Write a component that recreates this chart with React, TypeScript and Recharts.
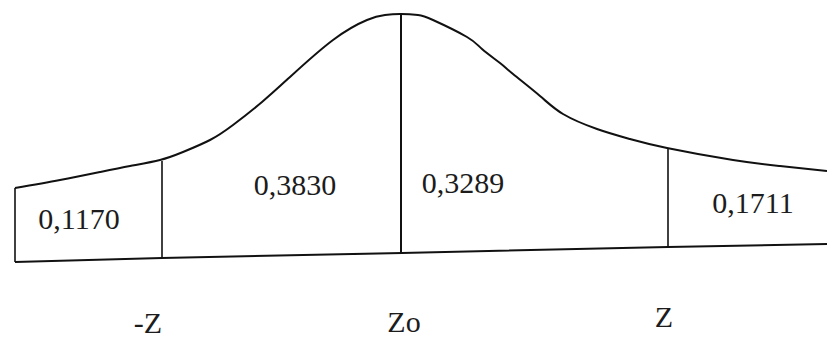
import React from 'react';
import { ComposedChart, Line, XAxis, YAxis, ReferenceLine, ReferenceDot } from 'recharts';

// Bell curve outline (z position, height above the left end of the base line)
const curveX = [-3.88, -3.43, -3.03, -2.73, -2.43, -2.2, -1.93, -1.7, -1.41, -1.13, -0.7, -0.36, -0.18, -0.02, 0.15, 0.3, 0.64, 0.79, 0.97, 1.1, 1.37, 1.6, 1.94, 2.27, 2.64, 3.3, 3.77, 4.24];
const curveY = [0.74, 0.82, 0.9, 0.96, 1.02, 1.1, 1.22, 1.37, 1.6, 1.85, 2.22, 2.42, 2.47, 2.48, 2.47, 2.42, 2.25, 2.13, 1.99, 1.88, 1.66, 1.48, 1.33, 1.23, 1.14, 1.02, 0.96, 0.91];

// Base line under the curve
const baseX = [-3.88, -2.41, -0.01, 2.65, 4.24];
const baseY = [0, 0.04, 0.09, 0.15, 0.18];

// Dividing verticals: left edge, -Z, Zo, Z
const cutX = [-3.88, -2.41, -0.02, 2.65];
const cutBottom = [0, 0.04, 0.09, 0.15];
const cutTop = [0.74, 1.01, 2.48, 1.14];

// Area values written inside each section
const areaLabels = ['0,1170', '0,3830', '0,3289', '0,1711'];
const areaX = [-3.24, -1.08, 0.6, 3.5];
const areaY = [0.33, 0.67, 0.69, 0.49];

// Z markers under the base line
const zLabels = ['-Z', 'Zo', 'Z'];
const zX = [-2.55, 0.01, 2.61];
const zY = [-0.71, -0.7, -0.65];

const curveData = curveX.map((x, i) => ({ x, y: curveY[i] }));
const baseData = baseX.map((x, i) => ({ x, y: baseY[i] }));

const INK = '#111';
const FONT = "'Liberation Serif', 'Times New Roman', serif";

const textShape = (label: string) => (props: any) => (
  <text
    x={props.cx}
    y={props.cy}
    textAnchor="middle"
    style={{ fontFamily: FONT, fontSize: 30, fill: '#1c1c1c' }}
  >
    {label}
  </text>
);

export default function App() {
  return (
    <div style={{ position: 'absolute', left: 0, top: 0, width: 827, height: 338, background: '#fff' }}>
      <ComposedChart width={827} height={338} data={curveData} margin={{ top: 0, right: 0, bottom: 0, left: 0 }}>
        <XAxis dataKey="x" type="number" domain={[-4.03, 4.24]} hide allowDataOverflow />
        <YAxis type="number" domain={[-0.76, 2.62]} hide allowDataOverflow />
        <Line
          data={baseData}
          dataKey="y"
          type="linear"
          stroke={INK}
          strokeWidth={2}
          dot={false}
          activeDot={false}
          isAnimationActive={false}
        />
        <Line
          dataKey="y"
          type="natural"
          stroke={INK}
          strokeWidth={2}
          dot={false}
          activeDot={false}
          isAnimationActive={false}
        />
        {cutX.map((x, i) => (
          <ReferenceLine
            key={`cut-${i}`}
            segment={[
              { x, y: cutBottom[i] },
              { x, y: cutTop[i] },
            ]}
            stroke={INK}
            strokeWidth={i === 2 ? 2 : 1.6}
            ifOverflow="visible"
          />
        ))}
        {areaLabels.map((t, i) => (
          <ReferenceDot key={`a-${i}`} x={areaX[i]} y={areaY[i]} r={0} shape={textShape(t)} ifOverflow="visible" />
        ))}
        {zLabels.map((t, i) => (
          <ReferenceDot key={`z-${i}`} x={zX[i]} y={zY[i]} r={0} shape={textShape(t)} ifOverflow="visible" />
        ))}
      </ComposedChart>
    </div>
  );
}
